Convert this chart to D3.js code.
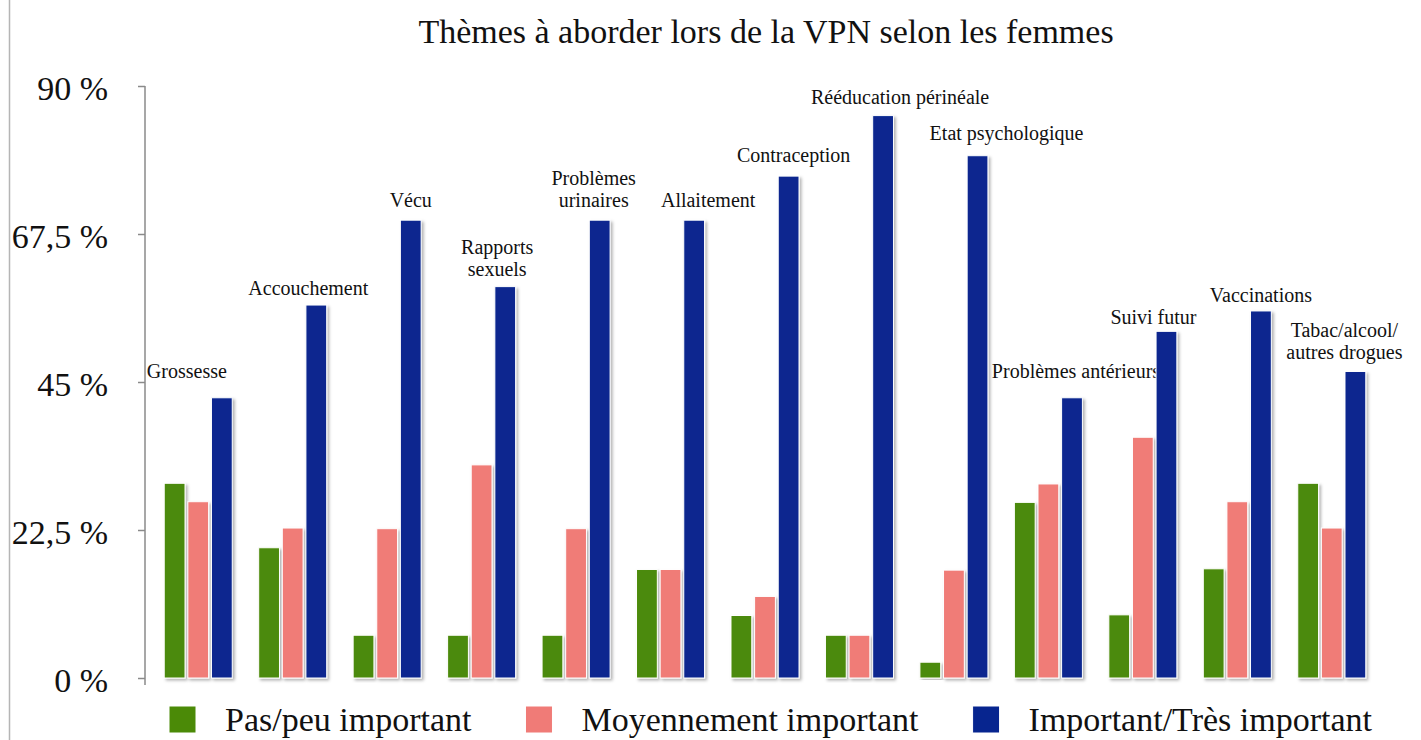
<!DOCTYPE html>
<html>
<head>
<meta charset="utf-8">
<script src="https://cdn.jsdelivr.net/npm/d3@7"></script>
<style>
  body { margin: 0; background: #fff; }
  svg { display: block; }
  svg text { font-family: "Liberation Serif", "Times New Roman", serif; }
</style>
</head>
<body>
<div id="chart"></div>
<script>
// categories (themes) and label lines shown above each group
const categories = ["Grossesse", "Accouchement", "Vécu", "Rapports sexuels", "Problèmes urinaires",
  "Allaitement", "Contraception", "Rééducation périnéale", "Etat psychologique",
  "Problèmes antérieurs", "Suivi futur", "Vaccinations", "Tabac/alcool/autres drogues"];
const labelLines = [["Grossesse"], ["Accouchement"], ["Vécu"], ["Rapports", "sexuels"], ["Problèmes", "urinaires"],
  ["Allaitement"], ["Contraception"], ["Rééducation périnéale"], ["Etat psychologique"],
  ["Problèmes antérieurs"], ["Suivi futur"], ["Vaccinations"], ["Tabac/alcool/", "autres drogues"]];

const seriesNames = ["Pas/peu important", "Moyennement important", "Important/Très important"];
const pasPeu = [29.6, 19.8, 6.5, 6.5, 6.5, 16.5, 9.5, 6.5, 2.4, 26.7, 9.6, 16.6, 29.6];
const moyen = [26.8, 22.8, 22.7, 32.4, 22.7, 16.5, 12.4, 6.5, 16.4, 29.5, 36.6, 26.8, 22.8];
const important = [42.6, 56.7, 69.6, 59.5, 69.6, 69.6, 76.3, 85.5, 79.4, 42.6, 52.7, 55.8, 46.6];

const tickValues = [0, 22.5, 45, 67.5, 90];
const tickLabels = ["0 %", "22,5 %", "45 %", "67,5 %", "90 %"];

const colors = ["#4b8a07", "#f07b77", "#07258f"];

// small nudges so the theme labels sit where the original placed them
const labelDx = [-35, -8, 0, -8, -6, 14, 5, 17, 29, 4, -13, 0, -11];
const labelGap = [20, 10, 13, 11, 13, 13, 14, 12, 16, 20, 7, 9, 12];

const W = 1421, H = 740;
const plot = { left: 145, right: 1384, top: 86, bottom: 678 };
const serif = "'Liberation Serif', 'Times New Roman', serif";

const svg = d3.select("#chart").append("svg")
  .attr("width", W)
  .attr("height", H);

const defs = svg.append("defs");
const shadow = defs.append("filter").attr("id", "shadow")
  .attr("x", "-20%").attr("y", "-5%").attr("width", "160%").attr("height", "115%");
shadow.append("feDropShadow")
  .attr("dx", 2).attr("dy", 2).attr("stdDeviation", 1.5)
  .attr("flood-color", "#000").attr("flood-opacity", 0.3);

// thin border on the left edge
svg.append("line")
  .attr("x1", 9.5).attr("x2", 9.5).attr("y1", 0).attr("y2", H)
  .attr("stroke", "#b5b5b5").attr("stroke-width", 1.5);

// title
svg.append("text")
  .attr("x", 766).attr("y", 43)
  .attr("text-anchor", "middle")
  .style("font-family", serif)
  .style("font-size", "34px")
  .style("fill", "#111")
  .text("Thèmes à aborder lors de la VPN selon les femmes");

const y = d3.scaleLinear().domain([0, 90]).range([plot.bottom, plot.top]);

const x0 = d3.scaleBand()
  .domain(categories)
  .range([151, 1379])
  .paddingInner(0.28)
  .paddingOuter(0.14);

const x1 = d3.scaleBand()
  .domain(seriesNames)
  .range([0, x0.bandwidth()])
  .paddingInner(0.12);

// grid lines
svg.append("g").selectAll("line")
  .data(tickValues)
  .enter().append("line")
  .attr("x1", plot.left - 7).attr("x2", plot.right)
  .attr("y1", d => y(d)).attr("y2", d => y(d))
  .attr("stroke", "#8a8a8a").attr("stroke-width", 1.5)
  .attr("filter", "url(#shadow)");

// y axis
const yAxis = svg.append("g")
  .attr("transform", `translate(${plot.left},0)`)
  .call(d3.axisLeft(y)
    .tickValues(tickValues)
    .tickSize(7)
    .tickPadding(30)
    .tickFormat((d, i) => tickLabels[i]));
yAxis.select(".domain").remove();
yAxis.selectAll(".tick line").attr("stroke", "#8a8a8a").attr("stroke-width", 1.5);
yAxis.selectAll(".tick text")
  .attr("dy", "0.41em")
  .style("font-family", serif)
  .style("font-size", "34px")
  .style("fill", "#111");

svg.append("line")
  .attr("x1", plot.left).attr("x2", plot.left)
  .attr("y1", plot.top).attr("y2", plot.bottom + 7)
  .attr("stroke", "#8a8a8a").attr("stroke-width", 1.5);

// bars
const rows = categories.map((c, i) => ({
  cat: c,
  values: [pasPeu[i], moyen[i], important[i]]
}));

const groups = svg.append("g").selectAll("g")
  .data(rows)
  .enter().append("g")
  .attr("transform", d => `translate(${x0(d.cat)},0)`);

groups.selectAll("rect")
  .data(d => d.values.map((v, j) => ({ series: seriesNames[j], value: v, j: j })))
  .enter().append("rect")
  .attr("x", d => x1(d.series))
  .attr("y", d => y(d.value))
  .attr("width", x1.bandwidth())
  .attr("height", d => y(0) - y(d.value))
  .attr("fill", d => colors[d.j])
  .attr("stroke", "#fff")
  .attr("stroke-width", 1)
  .attr("filter", "url(#shadow)");

// theme labels above the "important" bar
groups.each(function(d, i) {
  const g = d3.select(this);
  const cx = x1(seriesNames[2]) + x1.bandwidth() / 2 + labelDx[i];
  const lines = labelLines[i];
  const baseY = y(d.values[2]) - labelGap[i];
  const t = g.append("text")
    .attr("text-anchor", "middle")
    .style("font-family", serif)
    .style("font-size", "20px")
    .style("fill", "#111");
  lines.forEach((line, k) => {
    t.append("tspan")
      .attr("x", cx)
      .attr("y", baseY - (lines.length - 1 - k) * 22)
      .text(line);
  });
});

// bottom axis line
svg.append("line")
  .attr("x1", plot.left - 7).attr("x2", plot.right)
  .attr("y1", plot.bottom).attr("y2", plot.bottom)
  .attr("stroke", "#8a8a8a").attr("stroke-width", 1.5)
  .attr("filter", "url(#shadow)");

// legend
const legend = svg.append("g");
let lx = 169;
seriesNames.forEach((name, j) => {
  legend.append("rect")
    .attr("x", lx).attr("y", 706)
    .attr("width", 27).attr("height", 27)
    .attr("fill", colors[j])
    .attr("stroke", "#fff").attr("stroke-width", 1);
  const t = legend.append("text")
    .attr("x", lx + 56).attr("y", 731)
    .style("font-family", serif)
    .style("font-size", "34px")
    .style("fill", "#111")
    .text(name);
  lx = lx + 56 + t.node().getComputedTextLength() + 54;
});
</script>
</body>
</html>
